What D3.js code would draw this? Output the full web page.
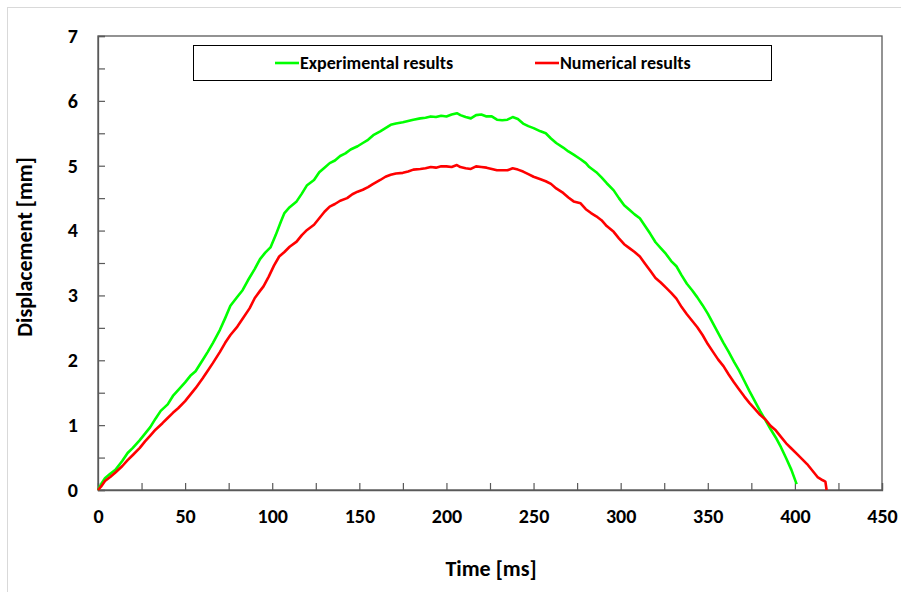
<!DOCTYPE html>
<html>
<head>
<meta charset="utf-8">
<script src="https://cdn.jsdelivr.net/npm/d3@7"></script>
<style>
  html, body { margin: 0; padding: 0; background: #fff; }
  svg { display: block; }
  text { font-family: Carlito, Lato, "Open Sans", sans-serif; }
</style>
</head>
<body>
<svg id="chart" width="901" height="592"></svg>
<script>
// ---- data ----
const seriesNames = ["Experimental results", "Numerical results"];
const seriesColors = ["#00ff00", "#ff0000"];

const expTime = [0,2,4,7,10,14,17,20,24,27,30,33,36,40,43,46,50,53,56,60,63,66,70,73,76,80,83,86,90,93,96,99,102,105,107,110,114,117,120,124,127,130,133,136,139,142,145,149,152,155,158,162,165,168,171,175,178,181,185,188,191,194,197,200,203,206,208,211,214,217,220,223,226,229,232,235,238,241,244,247,250,254,257,260,263,267,270,273,277,280,282,286,289,292,296,299,302,305,308,311,314,317,320,323,326,329,332,335,338,341,344,347,350,353,356,359,362,365,368,371,374,377,380,383,386,389,392,395,398,401];
const expDisp = [0,0.10,0.18,0.25,0.31,0.45,0.57,0.65,0.77,0.87,0.97,1.10,1.22,1.32,1.45,1.54,1.66,1.76,1.83,2.00,2.13,2.27,2.47,2.65,2.84,2.98,3.08,3.23,3.41,3.56,3.66,3.74,3.93,4.14,4.27,4.36,4.45,4.57,4.70,4.78,4.90,4.97,5.04,5.08,5.15,5.19,5.25,5.30,5.35,5.40,5.47,5.53,5.58,5.63,5.65,5.67,5.69,5.71,5.73,5.74,5.76,5.75,5.77,5.76,5.79,5.81,5.78,5.75,5.73,5.78,5.79,5.76,5.76,5.71,5.70,5.71,5.75,5.72,5.65,5.61,5.58,5.53,5.50,5.42,5.35,5.28,5.22,5.17,5.10,5.04,4.98,4.90,4.82,4.73,4.62,4.50,4.39,4.32,4.25,4.19,4.07,3.95,3.82,3.73,3.64,3.53,3.45,3.31,3.18,3.08,2.97,2.85,2.72,2.57,2.42,2.27,2.13,1.98,1.84,1.68,1.52,1.37,1.22,1.08,0.94,0.81,0.66,0.49,0.31,0.09];

const numTime = [0,2,4,7,10,14,17,20,24,27,30,33,37,40,43,46,50,53,56,60,63,66,70,73,76,80,83,87,90,93,95,98,101,104,107,110,114,117,120,124,127,130,133,136,139,143,146,149,152,155,158,162,165,168,171,175,178,181,185,188,191,194,197,200,203,206,208,211,214,217,220,223,226,229,232,235,238,241,244,247,250,254,257,260,263,267,270,273,277,280,283,286,289,292,296,299,302,305,308,311,314,317,320,323,326,329,332,335,338,341,344,347,350,353,356,359,362,365,368,371,374,377,380,383,386,389,392,395,398,401,404,407,410,413,416,417.5,418.2];
const numDisp = [0,0.06,0.14,0.20,0.27,0.37,0.46,0.54,0.65,0.75,0.84,0.93,1.03,1.11,1.19,1.26,1.37,1.47,1.57,1.72,1.84,1.96,2.13,2.27,2.39,2.52,2.64,2.80,2.96,3.07,3.14,3.29,3.46,3.60,3.67,3.75,3.83,3.93,4.01,4.09,4.19,4.29,4.37,4.41,4.46,4.50,4.56,4.60,4.63,4.67,4.72,4.78,4.83,4.86,4.88,4.89,4.91,4.94,4.95,4.96,4.98,4.97,4.99,4.99,4.98,5.01,4.98,4.96,4.95,4.99,4.98,4.97,4.95,4.93,4.93,4.93,4.96,4.94,4.91,4.87,4.83,4.79,4.76,4.72,4.65,4.58,4.51,4.45,4.42,4.33,4.27,4.22,4.16,4.07,3.98,3.88,3.79,3.73,3.67,3.60,3.49,3.38,3.27,3.20,3.12,3.04,2.95,2.82,2.71,2.61,2.51,2.39,2.25,2.13,2.01,1.91,1.78,1.66,1.55,1.44,1.34,1.25,1.16,1.09,0.99,0.92,0.82,0.72,0.64,0.56,0.48,0.40,0.30,0.20,0.15,0.13,0];

const xTickLabels = [0,50,100,150,200,250,300,350,400,450];
const yTickLabels = [0,1,2,3,4,5,6,7];
const xTitle = "Time [ms]";
const yTitle = "Displacement [mm]";

// ---- layout ----
const svg = d3.select("#chart");
const L = 98, R = 882, T = 36, B = 490;

svg.append("rect").attr("x", 7.5).attr("y", 7.5).attr("width", 905).attr("height", 600)
  .attr("fill", "none").attr("stroke", "#d9d9d9").attr("stroke-width", 1);

const x = d3.scaleLinear().domain([0, 450]).range([L, R]);
const y = d3.scaleLinear().domain([0, 7]).range([B, T]);

const axisColor = "#595959";

// plot frame
svg.append("rect").attr("x", L).attr("y", T).attr("width", R - L).attr("height", B - T)
  .attr("fill", "none").attr("stroke", axisColor).attr("stroke-width", 1.3);

// x axis ticks (inside)
const xAxis = d3.axisBottom(x).tickValues(d3.range(0, 451, 25)).tickSize(-7)
  .tickFormat(d => xTickLabels.includes(d) ? d : "").tickPadding(19);
const gx = svg.append("g").attr("transform", `translate(0,${B})`).call(xAxis);
gx.select(".domain").attr("stroke", axisColor).attr("stroke-width", 1.3);
gx.selectAll(".tick line").attr("stroke", axisColor).attr("stroke-width", 1.2);
gx.selectAll(".tick text").attr("fill", "#000").style("font-size", "20px").style("font-weight", "bold")
  .style("font-family", "Carlito, Lato, sans-serif");

const yAxis = d3.axisLeft(y).tickValues(d3.range(0, 7.01, 0.5)).tickSize(-7)
  .tickFormat(d => yTickLabels.includes(d) ? d : "").tickPadding(20);
const gy = svg.append("g").attr("transform", `translate(${L},0)`).call(yAxis);
gy.select(".domain").attr("stroke", axisColor).attr("stroke-width", 1.3);
gy.selectAll(".tick line").attr("stroke", axisColor).attr("stroke-width", 1.2);
gy.selectAll(".tick text").attr("fill", "#000").style("font-size", "20px").style("font-weight", "bold")
  .style("font-family", "Carlito, Lato, sans-serif");

// titles
svg.append("text").attr("x", 491).attr("y", 576).attr("text-anchor", "middle")
  .style("font-size", "22px").style("font-weight", "bold").text(xTitle);
svg.append("text").attr("transform", "translate(32,247) rotate(-90)").attr("text-anchor", "middle")
  .style("font-size", "22px").style("font-weight", "bold").text(yTitle);

// lines
const line = d3.line().x(d => x(d[0])).y(d => y(d[1]));
const seriesData = [
  d3.zip(expTime, expDisp),
  d3.zip(numTime, numDisp)
];
seriesData.forEach((data, i) => {
  svg.append("path").datum(data).attr("d", line).attr("fill", "none")
    .attr("stroke", seriesColors[i]).attr("stroke-width", 2.6)
    .attr("stroke-linejoin", "round");
});

// legend
svg.append("rect").attr("x", 193.5).attr("y", 45.5).attr("width", 578).attr("height", 35)
  .attr("fill", "#fff").attr("stroke", "#000").attr("stroke-width", 1);
const legX = [275, 535];
seriesNames.forEach((name, i) => {
  svg.append("line").attr("x1", legX[i]).attr("x2", legX[i] + 24).attr("y1", 63).attr("y2", 63)
    .attr("stroke", seriesColors[i]).attr("stroke-width", 2.6);
  svg.append("text").attr("x", legX[i] + 25).attr("y", 69)
    .style("font-size", "18px").style("font-weight", "bold").text(name);
});
</script>
</body>
</html>
